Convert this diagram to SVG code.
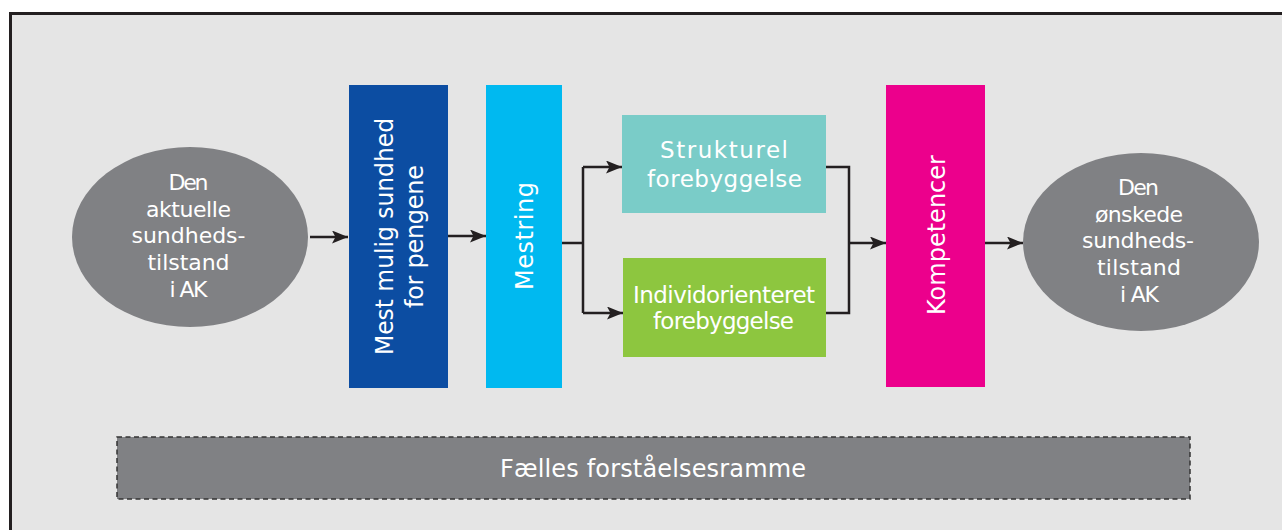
<svg xmlns="http://www.w3.org/2000/svg" width="1282" height="530" viewBox="0 0 1282 530">
<style>
.t{font-family:"DejaVu Sans","Liberation Sans",sans-serif;fill:#ffffff;text-anchor:middle}
.e{font-size:22px}
.b{font-size:23px}
.v{font-size:24px}
.c{fill:none;stroke:#231f20;stroke-width:2.5}
</style>
<defs>
<marker id="ah" markerUnits="userSpaceOnUse" markerWidth="18" markerHeight="14" refX="16" refY="6.5" orient="auto">
<path d="M0,0 L16,6.5 L0,13 L3.5,6.5 z" fill="#231f20"/>
</marker>
</defs>
<rect x="0" y="0" width="1282" height="530" fill="#ffffff"/>
<rect x="10.5" y="13.5" width="1290" height="540" fill="#e5e5e5" stroke="#231f20" stroke-width="3"/>

<g id="connectors">
<path class="c" d="M310,237 H348" marker-end="url(#ah)"/>
<path class="c" d="M448,236 H486" marker-end="url(#ah)"/>
<path class="c" d="M562,243 H583 M583,167 V313"/>
<path class="c" d="M583,167 H622" marker-end="url(#ah)"/>
<path class="c" d="M583,313 H623" marker-end="url(#ah)"/>
<path class="c" d="M826,167 H849 V313 H826"/>
<path class="c" d="M849,243 H886" marker-end="url(#ah)"/>
<path class="c" d="M985,243 H1023" marker-end="url(#ah)"/>
</g>

<g id="current">
<ellipse cx="190" cy="237" rx="118" ry="90" fill="#808184"/>
<text class="t e"><tspan x="188.5" y="190" textLength="40" lengthAdjust="spacing">Den</tspan><tspan x="188.5" y="217" textLength="85" lengthAdjust="spacing">aktuelle</tspan><tspan x="188.5" y="243" textLength="114" lengthAdjust="spacing">sundheds-</tspan><tspan x="188.5" y="270" textLength="82" lengthAdjust="spacing">tilstand</tspan><tspan x="188.5" y="297" textLength="38" lengthAdjust="spacing">i AK</tspan></text>
</g>

<g id="mest">
<rect x="349" y="85" width="99" height="303" fill="#0c4da2"/>
<text class="t v" transform="translate(393,236.5) rotate(-90)" x="0" y="0" textLength="237" lengthAdjust="spacingAndGlyphs">Mest mulig sundhed</text>
<text class="t v" transform="translate(423,236.5) rotate(-90)" x="0" y="0" textLength="143" lengthAdjust="spacing">for pengene</text>
</g>

<g id="mestring">
<rect x="486" y="85" width="76" height="303" fill="#00b9f0"/>
<text class="t v" transform="translate(533,236) rotate(-90)" x="0" y="0" textLength="108" lengthAdjust="spacing">Mestring</text>
</g>

<g id="strukturel">
<rect x="622" y="115" width="204" height="98" fill="#7accc8"/>
<text class="t b"><tspan x="724" y="158" textLength="128" lengthAdjust="spacing">Strukturel</tspan><tspan x="724.5" y="187" textLength="155" lengthAdjust="spacing">forebyggelse</tspan></text>
</g>

<g id="individ">
<rect x="623" y="258" width="203" height="99" fill="#8dc63f"/>
<text class="t b"><tspan x="724" y="303" textLength="182" lengthAdjust="spacing">Individorienteret</tspan><tspan x="723.5" y="329" textLength="141" lengthAdjust="spacing">forebyggelse</tspan></text>
</g>

<g id="kompetencer">
<rect x="886" y="85" width="99" height="302" fill="#ec008c"/>
<text class="t v" transform="translate(945,235) rotate(-90)" x="0" y="0" textLength="160" lengthAdjust="spacing">Kompetencer</text>
</g>

<g id="desired">
<ellipse cx="1141" cy="242" rx="118" ry="89" fill="#808184"/>
<text class="t e"><tspan x="1138.5" y="195" textLength="41" lengthAdjust="spacing">Den</tspan><tspan x="1139" y="222" textLength="88" lengthAdjust="spacing">ønskede</tspan><tspan x="1138" y="248" textLength="112" lengthAdjust="spacing">sundheds-</tspan><tspan x="1139" y="275" textLength="84" lengthAdjust="spacing">tilstand</tspan><tspan x="1139.5" y="302" textLength="39" lengthAdjust="spacing">i AK</tspan></text>
</g>

<g id="ramme">
<rect x="117" y="437" width="1073" height="62" fill="#808184" stroke="#333333" stroke-width="1.5" stroke-dasharray="5,3.5"/>
<text class="t" style="font-size:24px" x="653" y="477" textLength="306" lengthAdjust="spacing">Fælles forståelsesramme</text>
</g>
</svg>
